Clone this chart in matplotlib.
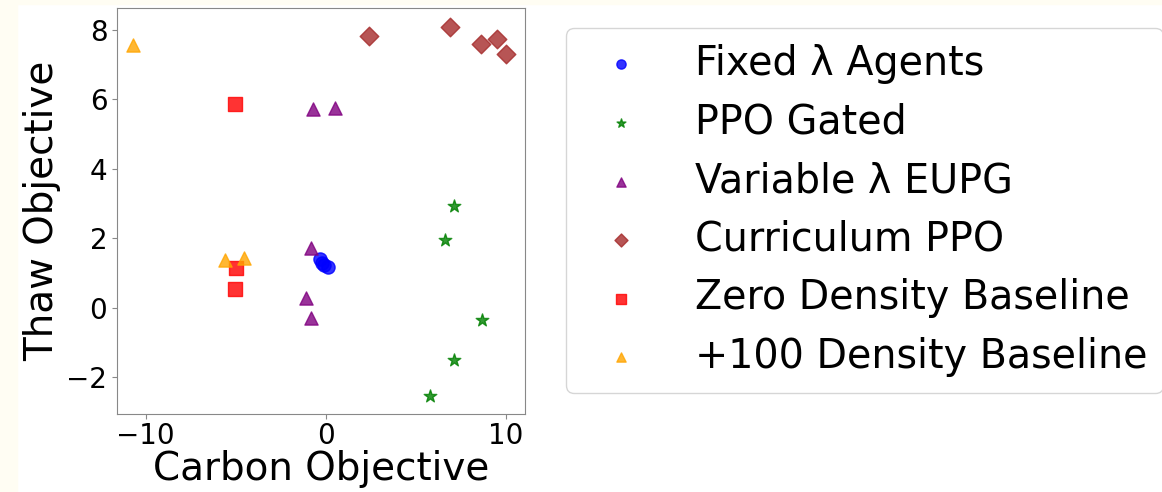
import matplotlib
matplotlib.use("Agg")
import matplotlib.pyplot as plt
from matplotlib.patches import Rectangle

# data
fixed_x = [-0.3, -0.2, -0.1, 0.1]
fixed_y = [1.40, 1.28, 1.22, 1.17]

ppo_x = [7.15, 6.6, 8.7, 7.15, 5.8]
ppo_y = [2.92, 1.96, -0.37, -1.52, -2.54]

eupg_x = [-0.7, 0.5, -0.85, -1.1, -0.8]
eupg_y = [5.72, 5.75, 1.72, 0.28, -0.3]

curr_x = [2.4, 6.9, 8.6, 9.5, 10.0]
curr_y = [7.84, 8.1, 7.6, 7.75, 7.32]

zero_x = [-5.05, -5.0, -5.05]
zero_y = [5.87, 1.13, 0.54]

plus_x = [-10.7, -5.6, -4.55]
plus_y = [7.58, 1.37, 1.42]

fig = plt.figure(figsize=(11.62, 4.92), dpi=100)
# off-white border strips of the original image
fig.patches.append(Rectangle((0, 0), 17 / 1162, 1, transform=fig.transFigure,
                             color="#fffdf3", zorder=-1))
fig.patches.append(Rectangle((0, 1 - 4 / 492), 1, 4 / 492, transform=fig.transFigure,
                             color="#fffdf3", zorder=-1))
ax = fig.add_axes([0.1007, 0.1585, 0.351, 0.825])

ax.scatter(fixed_x, fixed_y, c="blue", marker="o", s=90, alpha=0.8, label="Fixed λ Agents")
ax.scatter(ppo_x, ppo_y, c="green", marker="*", s=90, alpha=0.8, label="PPO Gated")
ax.scatter(eupg_x, eupg_y, c="purple", marker="^", s=90, alpha=0.8, label="Variable λ EUPG")
ax.scatter(curr_x, curr_y, c="brown", marker="D", s=90, alpha=0.8, label="Curriculum PPO")
ax.scatter(zero_x, zero_y, c="red", marker="s", s=90, alpha=0.8, label="Zero Density Baseline")
ax.scatter(plus_x, plus_y, c="orange", marker="^", s=90, alpha=0.8, label="+100 Density Baseline")

ax.set_xlim(-11.6, 11.06)
ax.set_ylim(-3.07, 8.63)
ax.set_xticks([-10, 0, 10])
ax.set_yticks([-2, 0, 2, 4, 6, 8])
ax.tick_params(labelsize=20, color="#888888")
ax.tick_params(axis="x", pad=2)
for sp in ax.spines.values():
    sp.set_color("#888888")

ax.set_xlabel("Carbon Objective", fontsize=28, labelpad=0)
ax.set_ylabel("Thaw Objective", fontsize=28)

fig.legend(loc="upper left", bbox_to_anchor=(566 / 1162, 1 - 28 / 492), fontsize=28.5,
           markerscale=0.7, handletextpad=0.85, labelspacing=0.47, borderpad=0.4,
           borderaxespad=0)

fig.savefig("out.png", dpi=100)
